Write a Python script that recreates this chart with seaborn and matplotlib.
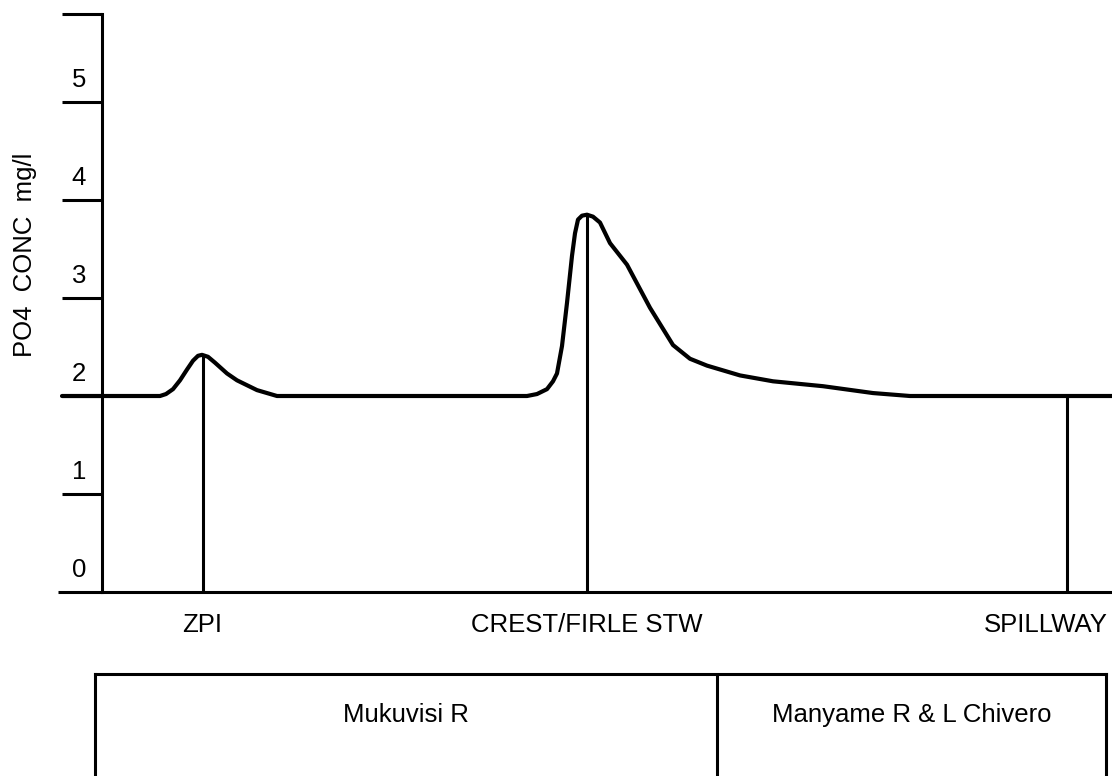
import matplotlib
matplotlib.use("Agg")
import matplotlib.pyplot as plt
import seaborn as sns

# distance along the river (arbitrary units, 0 = the y axis) and PO4 conc in mg/l
dist = [-4.0, 5.8, 6.4, 7.1, 7.8, 8.5, 9.1, 9.6, 10.0, 10.6, 11.3, 12.5, 13.5, 14.5, 15.5, 16.5, 17.5,
        42.5, 43.5, 44.5, 45.1, 45.5, 46.0, 46.5, 47.0, 47.3, 47.6, 48.0, 48.5, 49.1, 49.8, 50.8, 52.5,
        54.8, 57.1, 58.8, 60.5, 63.8, 67.1, 72.1, 77.1, 80.8, 101.0]
po4 = [2.00, 2.00, 2.02, 2.07, 2.16, 2.27, 2.36, 2.41, 2.42, 2.40, 2.34, 2.23, 2.16, 2.11, 2.06, 2.03, 2.00,
       2.00, 2.02, 2.07, 2.15, 2.23, 2.51, 2.95, 3.43, 3.66, 3.80, 3.84, 3.85, 3.83, 3.77, 3.56, 3.34,
       2.90, 2.52, 2.38, 2.31, 2.21, 2.15, 2.10, 2.03, 2.00, 2.00]

# sampling sites
sites = ["ZPI", "CREST/FIRLE STW", "SPILLWAY"]
site_dist = [10.05, 48.45, 96.5]
site_po4 = [2.42, 3.85, 2.00]

# river reaches shown in the box under the chart
reaches = ["Mukuvisi R", "Manyame R & L Chivero"]
reach_edges = [-0.7, 61.5, 100.4]

ytick_marks = [1, 2, 3, 4, 5]
ytick_labels = [0, 1, 2, 3, 4, 5]
y_top = 5.9

sns.set_style("white")
plt.rcParams["font.family"] = ["Liberation Sans", "DejaVu Sans"]
plt.rcParams["text.color"] = "black"
plt.rcParams["axes.labelcolor"] = "black"
FS = 18.5
LW = 2.2  # ~3 px
PT = 0.72  # px -> pt at 100 dpi

W, H = 1112, 776
fig = plt.figure(figsize=(W / 100, H / 100), dpi=100)
fig.patch.set_facecolor("white")

ax = fig.add_axes([102 / W, (H - 592) / H, 1010 / W, 578.2 / H])
ax.set_xlim(0, 101)
ax.set_ylim(0, y_top)

sns.lineplot(x=dist, y=po4, ax=ax, color="black", linewidth=3.0, sort=False)
curve = ax.lines[-1]
curve.set_clip_on(False)
curve.set_solid_joinstyle("round")

ax.vlines(site_dist, 0, site_po4, color="black", linewidth=LW)

sns.despine(ax=ax)
for s in ["left", "bottom"]:
    ax.spines[s].set_linewidth(LW)
    ax.spines[s].set_color("black")
# x axis runs a little past the y axis
ax.plot([-4.4, 0], [0, 0], color="black", linewidth=LW, clip_on=False, solid_capstyle="butt")

ax.set_xticks([])
ax.set_yticks(ytick_marks + [y_top])
ax.set_yticklabels([])
ax.tick_params(axis="y", left=True, length=40 * PT, width=LW, color="black", direction="out")

for v in ytick_labels:
    ax.annotate(str(v), xy=(0, v), xytext=(-23 * PT, 15 * PT), textcoords="offset points",
                ha="center", va="baseline", fontsize=FS, color="black")

for name, d in zip(sites, site_dist):
    if name == "SPILLWAY":
        ha, dx = "right", 41
    else:
        ha, dx = "center", 0
    ax.annotate(name, xy=(d, 0), xytext=(dx * PT, -40 * PT), textcoords="offset points",
                ha=ha, va="baseline", fontsize=FS, color="black", annotation_clip=False)

ax.set_ylabel("PO4  CONC  mg/l", fontsize=FS, va="center", color="black")
ax.yaxis.set_label_coords(-77 / 1010, 0.583)

# box with the river reaches
bx = fig.add_axes([(102 + reach_edges[0] * 10) / W, -0.02,
                   (reach_edges[-1] - reach_edges[0]) * 10 / W, (H - 674) / H + 0.02])
bx.set_xlim(reach_edges[0], reach_edges[-1])
bx.set_ylim(0, 1)
bx.set_xticks([])
bx.set_yticks([])
bx.spines["bottom"].set_visible(False)
for s in ["top", "left", "right"]:
    bx.spines[s].set_linewidth(LW)
    bx.spines[s].set_color("black")
for e in reach_edges[1:-1]:
    bx.axvline(e, color="black", linewidth=LW)
for name, a, b in zip(reaches, reach_edges[:-1], reach_edges[1:]):
    bx.annotate(name, xy=((a + b) / 2, 1), xycoords=("data", "axes fraction"),
                xytext=(0, -48 * PT), textcoords="offset points",
                ha="center", va="baseline", fontsize=FS, color="black")

fig.savefig("out.png", dpi=100)
